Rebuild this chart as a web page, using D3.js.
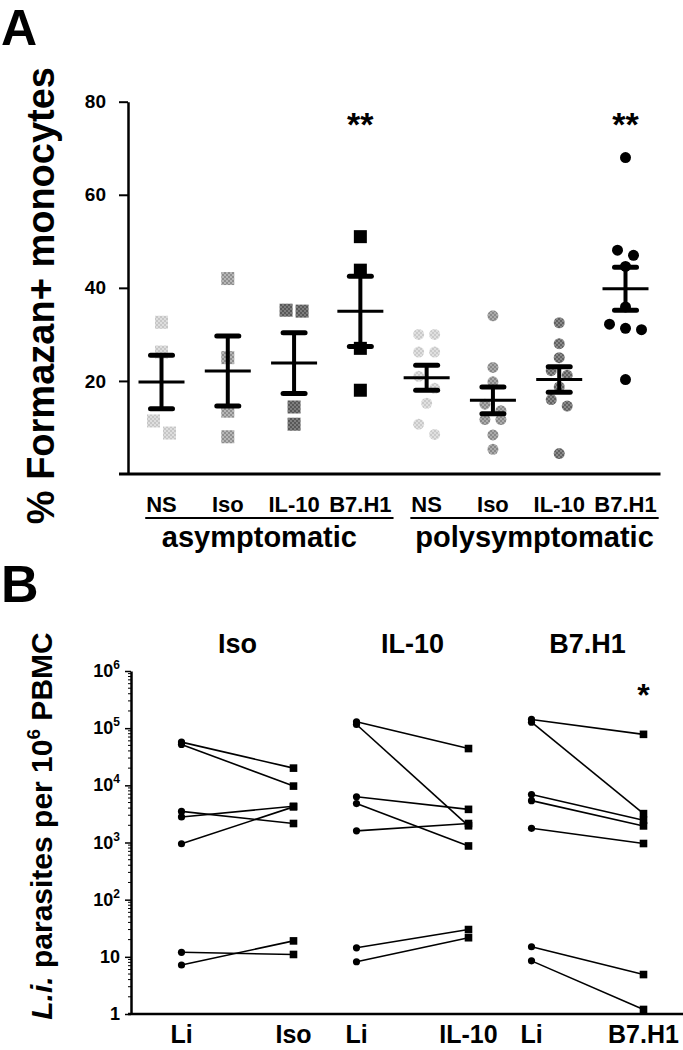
<!DOCTYPE html>
<html><head><meta charset="utf-8">
<script src="https://cdn.jsdelivr.net/npm/d3@7"></script>
<style>
html,body{margin:0;padding:0;background:#fff;}
svg{display:block;font-family:"Liberation Sans",Arial,Helvetica,sans-serif;}
</style></head><body>
<svg id="chart" width="683" height="1050"></svg>
<script>
// ---------------- Panel A data ----------------
const categoriesA = ["NS","Iso","IL-10","B7.H1","NS","Iso","IL-10","B7.H1"];
const groupsA = ["asymptomatic","polysymptomatic"];
const asymNS   = [32.6, 26.2, 11.4, 8.8];
const asymIso  = [42, 25, 13.5, 8];
const asymIL10 = [35.2, 35, 14.4, 10.7];
const asymB7H1 = [51, 43.8, 27, 18];
const polyNS   = [30, 30, 26.2, 26.2, 21, 18.4, 15.2, 10.7, 8.5];
const polyIso  = [34, 22.9, 19.8, 15, 13.6, 11.7, 11.7, 8.4, 5.3];
const polyIL10 = [32.5, 28, 25, 22.2, 21.2, 18.7, 16, 14.6, 4.4];
const polyB7H1 = [68, 48.1, 47, 44.6, 35.9, 32.2, 31.3, 31, 20.3];
const yTicksA = [20, 40, 60, 80];
const sigA = ["", "", "", "**", "", "", "", "**"];

// ---------------- Panel B data ----------------
const groupsB = ["Iso","IL-10","B7.H1"];
const liIso   = [57000, 52000, 3500, 2800, 950, 12, 7.2];
const trIso   = [20000, 9700, 2150, 4300, 4200, 11, 19];
const liIL10  = [129000, 116000, 6300, 4800, 1600, 14.4, 8.2];
const trIL10  = [44000, 1960, 3800, 870, 2150, 30, 21.6];
const liB7H1  = [142000, 127000, 6900, 5400, 1770, 15, 8.5];
const trB7H1  = [78000, 3200, 2450, 1950, 960, 4.9, 1.2];
const yTicksB = [1, 10, 100, 1e3, 1e4, 1e5, 1e6];
const yTickBaseB = ["1","10","10","10","10","10","10"];
const yTickExpB  = ["","","2","3","4","5","6"];
const sigB = ["", "", "*"];

// ---------------- drawing ----------------
const svg = d3.select("#chart");
const defs = svg.append("defs");
function checker(id, c1, c2){
  const p = defs.append("pattern").attr("id", id).attr("width", 4).attr("height", 4)
    .attr("patternUnits", "userSpaceOnUse");
  p.append("rect").attr("width", 4).attr("height", 4).attr("fill", c1);
  p.append("rect").attr("width", 2).attr("height", 2).attr("fill", c2);
  p.append("rect").attr("x", 2).attr("y", 2).attr("width", 2).attr("height", 2).attr("fill", c2);
  return "url(#" + id + ")";
}
const fillsA = [
  checker("aNS", "#dedede", "#c6c6c6"),
  checker("aIso", "#b6b6b6", "#8e8e8e"),
  checker("aIL", "#7e7e7e", "#585858"),
  "#000",
  checker("pNS", "#e0e0e0", "#cacaca"),
  checker("pIso", "#ababab", "#888888"),
  checker("pIL", "#8a8a8a", "#626262"),
  "#000"
];
const seriesA = [asymNS, asymIso, asymIL10, asymB7H1, polyNS, polyIso, polyIL10, polyB7H1];

// Panel labels
svg.append("text").attr("x", 1).attr("y", 45).attr("font-size", 50).attr("font-weight", "bold").text("A");
svg.append("text").attr("x", 1).attr("y", 602).attr("font-size", 52).attr("font-weight", "bold").text("B");

// ----- Panel A -----
const xA = d3.scalePoint().domain(d3.range(categoriesA.length)).range([161.5, 625.5]);
const yA = d3.scaleLinear().domain([0, 80]).range([474, 101.7]);
const axisXA = 128;

const gyA = svg.append("g").attr("transform", `translate(${axisXA},0)`)
  .call(d3.axisLeft(yA).tickValues(yTicksA).tickSize(9).tickSizeOuter(0).tickPadding(13));
gyA.select(".domain").attr("stroke", "#000").attr("stroke-width", 2.5);
gyA.selectAll(".tick line").attr("stroke", "#000").attr("stroke-width", 2);
gyA.selectAll(".tick text").attr("font-family", '"Liberation Sans",Arial,sans-serif')
  .attr("font-size", 19).attr("font-weight", "bold").attr("fill", "#000");

// x axis line (with the 0 tick)
svg.append("line").attr("x1", axisXA - 9).attr("x2", xA(7) + 35)
  .attr("y1", yA(0)).attr("y2", yA(0)).attr("stroke", "#000").attr("stroke-width", 3);

function swarm(values, yScale, thresh, spacing){
  const idx = values.map((v, i) => i).sort((a, b) => values[b] - values[a]);
  const rows = []; let cur = null;
  idx.forEach(i => {
    const py = yScale(values[i]);
    if (cur && Math.abs(py - cur.y0) <= thresh) cur.items.push(i);
    else { cur = {y0: py, items: [i]}; rows.push(cur); }
  });
  const off = new Array(values.length).fill(0);
  rows.forEach(r => { const n = r.items.length; r.items.forEach((i, k) => { off[i] = (k - (n - 1) / 2) * spacing; }); });
  return off;
}

const gPts = svg.append("g");
seriesA.forEach((vals, c) => {
  const off = swarm(vals, yA, 12.5, 16);
  const cx = xA(c);
  if (c < 4) {
    gPts.selectAll(null).data(vals).enter().append("rect")
      .attr("x", (d, i) => cx + off[i] - 6.5).attr("y", d => yA(d) - 6.5)
      .attr("width", 13).attr("height", 13).attr("fill", fillsA[c]);
  } else {
    gPts.selectAll(null).data(vals).enter().append("circle")
      .attr("cx", (d, i) => cx + off[i]).attr("cy", d => yA(d))
      .attr("r", 5.5).attr("fill", fillsA[c]);
  }
});

// mean +/- SEM
const gErr = svg.append("g").attr("stroke", "#000");
seriesA.forEach((vals, c) => {
  const m = d3.mean(vals), s = d3.deviation(vals) / Math.sqrt(vals.length);
  const cx = xA(c);
  gErr.append("line").attr("x1", cx - 23).attr("x2", cx + 23).attr("y1", yA(m)).attr("y2", yA(m)).attr("stroke-width", 3);
  gErr.append("line").attr("x1", cx).attr("x2", cx).attr("y1", yA(m + s)).attr("y2", yA(m - s)).attr("stroke-width", 4);
  [m + s, m - s].forEach(v => {
    gErr.append("line").attr("x1", cx - 11).attr("x2", cx + 11).attr("y1", yA(v)).attr("y2", yA(v))
      .attr("stroke-width", 5).attr("stroke-linecap", "round");
  });
});

// significance
sigA.forEach((t, c) => {
  if (!t) return;
  svg.append("text").attr("x", xA(c)).attr("y", 136).attr("text-anchor", "middle")
    .attr("font-size", 34).attr("font-weight", "bold").text(t);
});

// category labels
const catLabels = svg.append("g").selectAll("text").data(categoriesA).enter().append("text")
  .attr("x", (d, i) => xA(i)).attr("y", 512).attr("text-anchor", "middle")
  .attr("font-size", 22).attr("font-weight", "bold").text(d => d);
const catNodes = catLabels.nodes();
groupsA.forEach((g, gi) => {
  const b1 = catNodes[gi * 4].getBBox(), b2 = catNodes[gi * 4 + 3].getBBox();
  const x1 = b1.x - 1, x2 = b2.x + b2.width + 2;
  svg.append("line").attr("x1", x1).attr("x2", x2).attr("y1", 518).attr("y2", 518)
    .attr("stroke", "#000").attr("stroke-width", 2);
  svg.append("text").attr("x", (x1 + x2) / 2 - (gi === 0 ? 10 : 0)).attr("y", 547).attr("text-anchor", "middle")
    .attr("font-size", 29).attr("font-weight", "bold").text(g);
});

// y title A
svg.append("text").attr("transform", "translate(54,67) rotate(-90)").attr("text-anchor", "end")
  .attr("font-size", 38).attr("font-weight", "bold").text("% Formazan+ monocytes");

// ----- Panel B -----
const yB = d3.scaleLog().domain([1, 1e6]).range([1014, 671]);
const xB0 = d3.scaleBand().domain(groupsB).range([150, 675]);
const xB1 = d3.scalePoint().domain(["Li", "T"]).range([-56, 56]);
const axisXB = 131;
const cB = g => xB0(g) + xB0.bandwidth() / 2;

const gyB = svg.append("g").attr("transform", `translate(${axisXB},0)`)
  .call(d3.axisLeft(yB).tickValues(yTicksB).tickSize(6).tickSizeOuter(0).tickFormat(""));
gyB.select(".domain").attr("stroke", "#000").attr("stroke-width", 2.5);
gyB.selectAll(".tick line").attr("stroke", "#000").attr("stroke-width", 1.5);
// minor ticks
const minors = [];
for (let e = 0; e < 6; e++) for (let k = 2; k <= 9; k++) minors.push(k * Math.pow(10, e));
svg.append("g").selectAll("line").data(minors).enter().append("line")
  .attr("x1", axisXB - 3).attr("x2", axisXB + 1).attr("y1", d => yB(d)).attr("y2", d => yB(d))
  .attr("stroke", "#000").attr("stroke-width", 1);
// tick labels
yTicksB.forEach((v, i) => {
  const t = svg.append("text").attr("x", 120).attr("y", yB(v) + 6).attr("text-anchor", "end")
    .attr("font-size", 18).attr("font-weight", "bold");
  t.append("tspan").text(yTickBaseB[i]);
  if (yTickExpB[i]) t.append("tspan").attr("dy", -8).attr("font-size", 12).text(yTickExpB[i]);
});
// x axis B
svg.append("line").attr("x1", axisXB - 3).attr("x2", 683).attr("y1", yB(1)).attr("y2", yB(1))
  .attr("stroke", "#000").attr("stroke-width", 2.5);

const seriesB = [[liIso, trIso], [liIL10, trIL10], [liB7H1, trB7H1]];
seriesB.forEach(([li, tr], gi) => {
  const g = groupsB[gi], cx = cB(g);
  const xl = cx + xB1("Li"), xt = cx + xB1("T");
  const gg = svg.append("g");
  li.forEach((v, i) => {
    gg.append("line").attr("x1", xl).attr("y1", yB(v)).attr("x2", xt).attr("y2", yB(tr[i]))
      .attr("stroke", "#000").attr("stroke-width", 1.6);
  });
  gg.selectAll("circle").data(li).enter().append("circle")
    .attr("cx", xl).attr("cy", d => yB(d)).attr("r", 3.6).attr("fill", "#000");
  gg.selectAll("rect").data(tr).enter().append("rect")
    .attr("x", xt - 3.8).attr("y", d => yB(d) - 3.8).attr("width", 7.6).attr("height", 7.6).attr("fill", "#000");
  // group title
  svg.append("text").attr("x", cx).attr("y", 653).attr("text-anchor", "middle")
    .attr("font-size", 27).attr("font-weight", "bold").text(g);
  // x labels
  svg.append("text").attr("x", xl).attr("y", 1043).attr("text-anchor", "middle")
    .attr("font-size", 25).attr("font-weight", "bold").text("Li");
  svg.append("text").attr("x", xt).attr("y", 1043).attr("text-anchor", "middle")
    .attr("font-size", 25).attr("font-weight", "bold").text(g);
  if (sigB[gi]) svg.append("text").attr("x", xt).attr("y", 706).attr("text-anchor", "middle")
    .attr("font-size", 32).attr("font-weight", "bold").text(sigB[gi]);
});

// y title B
const tB = svg.append("text").attr("transform", "translate(52,826) rotate(-90)").attr("text-anchor", "middle")
  .attr("font-size", 30).attr("font-weight", "bold");
tB.append("tspan").attr("font-style", "italic").text("L.i.");
tB.append("tspan").text(" parasites per 10");
tB.append("tspan").attr("dy", -12).attr("font-size", 19).text("6");
tB.append("tspan").attr("dy", 12).text(" PBMC");
</script>
</body></html>
